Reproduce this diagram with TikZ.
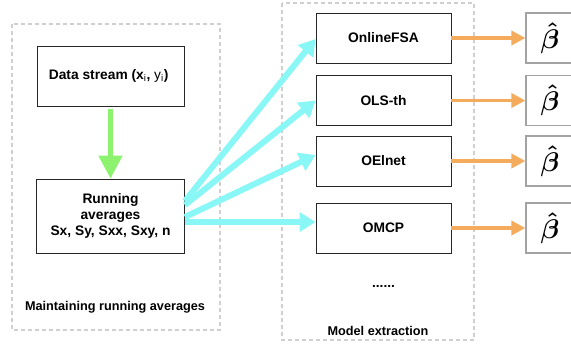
\documentclass[tikz,border=0pt]{standalone}
\usepackage{fontspec}
\setmainfont{Liberation Sans}
\usepackage{amsmath}
\usetikzlibrary{arrows.meta,positioning,calc}
\definecolor{streamgreen}{HTML}{8DF26E}
\definecolor{feedcyan}{HTML}{8AF7F7}
\definecolor{outorange}{HTML}{F5AB5C}
\definecolor{framegray}{HTML}{CFCFCF}
\definecolor{betagray}{HTML}{A3A3A3}
\newcommand{\betahat}{\scalebox{2.7}{$\boldsymbol{\hat{\beta}}$}}
\tikzstyle{Grouptext} = [text centered, font=\bfseries\fontsize{12.7}{15}\selectfont]
\tikzset{
    block/.style={
        rectangle,
        draw=black!85,
        line width=0.9pt,
        fill=white,
        align=center,
        font=\bfseries\fontsize{13.8}{16}\selectfont,
    },
    model/.style={
        block,
        minimum width=135pt,
        minimum height=50pt,
    },
    estimate/.style={
        rectangle,
        draw=betagray,
        line width=1.2pt,
        fill=white,
        minimum width=48pt,
        minimum height=50pt,
        inner sep=0pt,
        font=\normalsize,
    },
    group/.style={
        draw=framegray,
        line width=1.3pt,
        dash pattern=on 4pt off 3pt,
    },
    flow/.style={draw=streamgreen, line width=5pt, -{Triangle[length=23pt,width=23pt]}},
    feed/.style={draw=feedcyan, line width=6pt, -{Triangle[length=16pt,width=19pt]}},
    result/.style={draw=outorange, line width=3.5pt, -{Triangle[length=14pt,width=14pt]}},
}

\begin{document}
\begin{tikzpicture}[
    x=1pt,
    y=-1pt,
    on grid,
    font=\small]

\clip (0,0) rectangle (571,346);

% dashed groups
\draw [group] (12,24) rectangle (220,330);
\draw [group] (282,3) rectangle (474,340);

% data stream
\node
[
    block,
    minimum width=147pt,
    minimum height=60pt
] (data) at (110.5,76)
{
    Data stream (x\textsubscript{\mdseries i}, {\mdseries y\textsubscript{i}})
};
% running averages
\node
[
    block,
    minimum width=148pt,
    minimum height=74pt
] (run) [below=140pt of data]
{
    Running \\
    averages \\
    Sx, Sy, Sxx, Sxy, n
};

% models
\node [model] (ofsa) at (383.5,38) {OnlineFSA};
\node [model] (ols) [below=62.5pt of ofsa] {OLS-th};
\node [model] (oel) [below=60.5pt of ols] {OElnet};
\node [model] (omcp) [below=67pt of oel] {OMCP};
\node [block, draw=none, fill=none] (more) [below=58pt of omcp] {......};

% estimates
\node [estimate] (b_1) [right=166.5pt of ofsa] {\betahat};
\node [estimate] (b_2) [right=166.5pt of ols] {\betahat};
\node [estimate] (b_3) [right=166.5pt of oel] {\betahat};
\node [estimate] (b_4) [right=166.5pt of omcp] {\betahat};

% Transitions
\path
    (data) edge [flow, shorten <=3pt] (run)
    ([yshift=15pt]run.east) edge [feed] ([yshift=-1pt]ofsa.west)
    ([yshift=11pt]run.east) edge [feed] (ols.west)
    ([yshift=-1pt]run.east) edge [feed] ([yshift=6pt]oel.west)
    ([yshift=-6pt]run.east) edge [feed] ([yshift=6pt]omcp.west)
    (ofsa) edge [result] (b_1)
    (ols) edge [result] (b_2)
    (oel) edge [result] (b_3)
    (omcp) edge [result] (b_4);

\node [Grouptext] (g_left) at (115,307) {Maintaining running averages};
\node [Grouptext] (g_right) at (378,331) {Model extraction};

\end{tikzpicture}
\end{document}
